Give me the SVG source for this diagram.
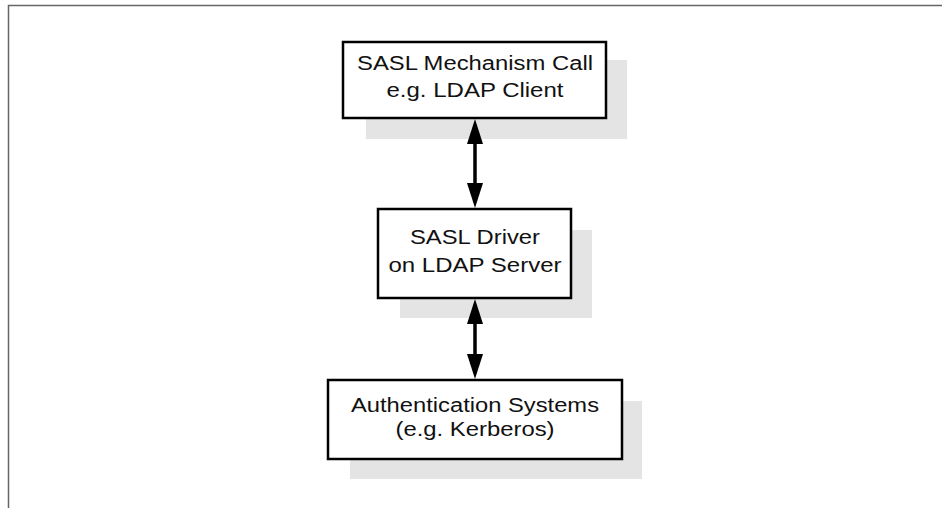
<svg xmlns="http://www.w3.org/2000/svg" width="942" height="508" viewBox="0 0 942 508">
<style>
.shadow{fill:#e4e4e4;stroke:none}
.box{fill:#fff;stroke:#000;stroke-width:2.5}
.t{font-family:"Liberation Sans",Arial,sans-serif;font-size:20px;fill:#111;text-anchor:middle}
.conn{stroke:#000;stroke-width:3.5;fill:none}
.head{fill:#000;stroke:none}
.frame{stroke:#666;stroke-width:1.5;fill:none}
</style>
<rect x="0" y="0" width="942" height="508" fill="#fff"/>
<path class="frame" d="M8.5,508 V5.5 H942"/>
<g id="node1">
<rect class="shadow" x="366" y="60" width="261" height="79"/>
<rect class="box" x="343" y="42" width="263" height="76"/>
<text class="t" x="475" y="70" textLength="236" lengthAdjust="spacingAndGlyphs">SASL Mechanism Call</text>
<text class="t" x="475" y="97" textLength="177" lengthAdjust="spacingAndGlyphs">e.g. LDAP Client</text>
</g>
<g id="node2">
<rect class="shadow" x="400" y="230" width="192" height="88"/>
<rect class="box" x="378" y="209" width="193" height="89"/>
<text class="t" x="475" y="244" textLength="130" lengthAdjust="spacingAndGlyphs">SASL Driver</text>
<text class="t" x="475" y="272" textLength="173" lengthAdjust="spacingAndGlyphs">on LDAP Server</text>
</g>
<g id="node3">
<rect class="shadow" x="350" y="401" width="292" height="78"/>
<rect class="box" x="328" y="380" width="294" height="79"/>
<text class="t" x="475" y="412" textLength="248" lengthAdjust="spacingAndGlyphs">Authentication Systems</text>
<text class="t" x="475" y="436" textLength="159" lengthAdjust="spacingAndGlyphs">(e.g. Kerberos)</text>
</g>
<g id="connectors">
<line class="conn" x1="475" y1="135" x2="475" y2="192"/>
<polygon class="head" points="475,119 467,144 483,144"/>
<polygon class="head" points="475,208 467,183 483,183"/>
<line class="conn" x1="475" y1="315" x2="475" y2="364"/>
<polygon class="head" points="475,299 467,324 483,324"/>
<polygon class="head" points="475,379 467,354 483,354"/>
</g>
</svg>
